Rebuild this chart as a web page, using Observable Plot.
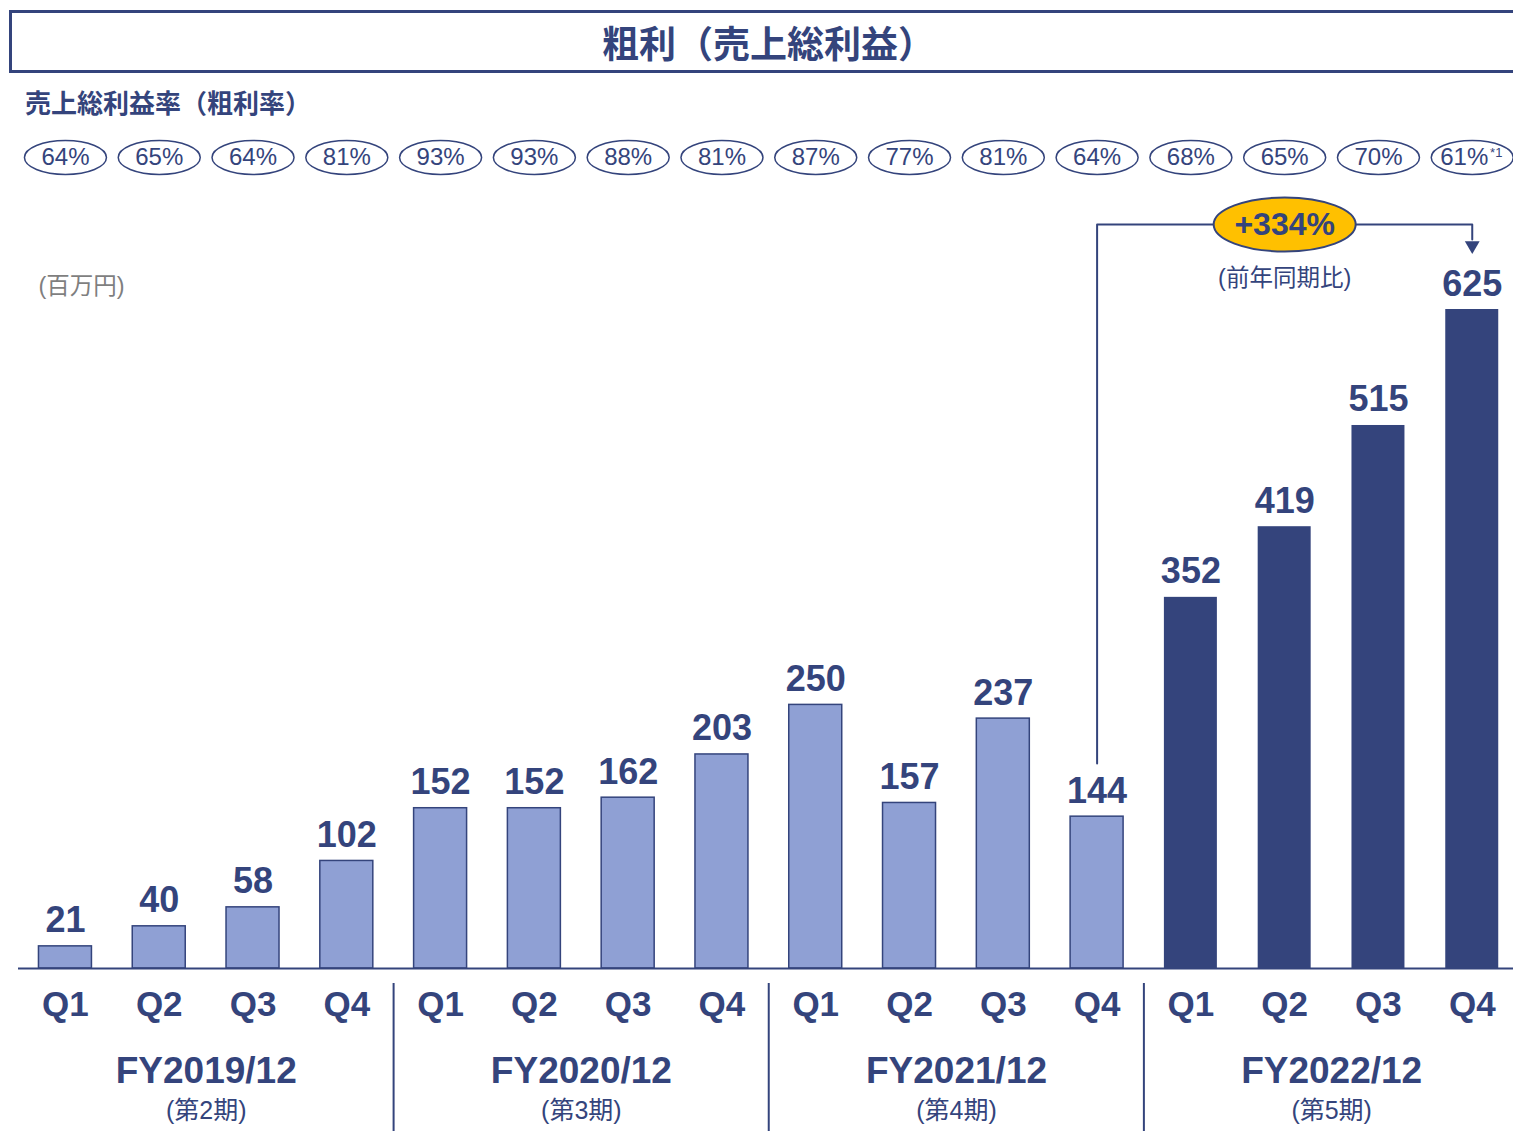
<!DOCTYPE html>
<html>
<head>
<meta charset="utf-8">
<script src="https://cdn.jsdelivr.net/npm/d3@7"></script>
<script src="https://cdn.jsdelivr.net/npm/@observablehq/plot@0.6"></script>
<style>
  html, body { margin: 0; padding: 0; background: #fff; overflow: hidden; }
  body { width: 1513px; height: 1131px; font-family: "Liberation Sans", Arial, "Noto Sans CJK JP", sans-serif; }
  #hdr { position: relative; width: 1513px; height: 130px; }
  #title { position: absolute; left: 9px; top: 10px; width: 1493px; padding-left: 10px; height: 57px;
    border: 3px solid #34447c; border-right: none; display: flex; align-items: center; justify-content: center;
    font-weight: bold; font-size: 37px; color: #34447c; }
  #sub { position: absolute; left: 25px; top: 89px; font-weight: bold; font-size: 26px; color: #34447c; line-height: 30px; }
  #chart svg { display: block; }
</style>
</head>
<body>
<div id="hdr">
  <div id="title">粗利（売上総利益）</div>
  <div id="sub">売上総利益率（粗利率）</div>
</div>
<div id="chart"></div>
<script>
const fiscalYears = ["FY2019/12", "FY2020/12", "FY2021/12", "FY2022/12"];
const periods = ["(第2期)", "(第3期)", "(第4期)", "(第5期)"];
const quarters = ["Q1", "Q2", "Q3", "Q4"];
const grossProfit = [21, 40, 58, 102, 152, 152, 162, 203, 250, 157, 237, 144, 352, 419, 515, 625];
const grossMargin = [64, 65, 64, 81, 93, 93, 88, 81, 87, 77, 81, 64, 68, 65, 70, 61];
const unitLabel = "(百万円)";
const yoyLabel = "(前年同期比)";
const footnoteMark = "*1";

const navy = "#34447c";
const light = "#8fa0d4";
const dark = "#34447c";
const yellow = "#ffc000";

const rows = grossProfit.map((v, i) => ({
  key: fiscalYears[Math.floor(i / 4)] + " " + quarters[i % 4],
  fy: fiscalYears[Math.floor(i / 4)],
  q: quarters[i % 4],
  value: v,
  rate: grossMargin[i],
  current: Math.floor(i / 4) === fiscalYears.length - 1
}));
const keys = rows.map(d => d.key);
const years = fiscalYears.map((fy, j) => ({fy, period: periods[j], mid: rows[j * 4 + 1].key, first: rows[j * 4].key}));

const H = 1001;
const yRange = [838, 179];
const yInv = d3.scaleLinear().domain(yRange).range([0, 625]);

function ellipseSymbol(a, b) {
  const k = 0.5523;
  return {
    draw(ctx) {
      ctx.moveTo(a, 0);
      ctx.bezierCurveTo(a, b * k, a * k, b, 0, b);
      ctx.bezierCurveTo(-a * k, b, -a, b * k, -a, 0);
      ctx.bezierCurveTo(-a, -b * k, -a * k, -b, 0, -b);
      ctx.bezierCurveTo(a * k, -b, a, -b * k, a, 0);
      ctx.closePath();
    }
  };
}

// YoY annotation: last quarter vs same quarter a year earlier
const last = rows[rows.length - 1];
const prev = rows[rows.length - 5];
const yoy = Math.round((last.value / prev.value - 1) * 100);
const annotTop = yInv(94);
const leader = [
  {key: prev.key, v: yInv(633)},
  {key: prev.key, v: annotTop},
  {key: last.key, v: annotTop},
  {key: last.key, v: yInv(109)}
];
const rest = rows.slice(0, rows.length - 1);

const chart = Plot.plot({
  width: 1513,
  height: H,
  margin: 0,
  style: {fontFamily: '"Liberation Sans", Arial, "Noto Sans CJK JP", sans-serif', overflow: "visible", background: "white"},
  x: {type: "band", domain: keys, range: [19.7, 1517], paddingInner: 0.435, paddingOuter: 0.2, round: false, axis: null},
  y: {domain: [0, 625], range: yRange, axis: null},
  marks: [
    // margin ellipses row
    Plot.dot(rows, {x: "key", frameAnchor: "top", dy: 27, symbol: ellipseSymbol(41, 17), fill: "white", stroke: navy, strokeWidth: 1.5}),
    Plot.text(rest, {x: "key", frameAnchor: "top", dy: 27, text: d => d.rate + "%", fontSize: 24, fill: navy, lineAnchor: "middle"}),
    Plot.text([last], {x: "key", frameAnchor: "top", dy: 27, dx: -8, text: d => d.rate + "%", fontSize: 24, fill: navy, lineAnchor: "middle"}),
    Plot.text([last], {x: "key", frameAnchor: "top", dy: 22, dx: 24, text: () => footnoteMark, fontSize: 13, fill: navy, lineAnchor: "middle"}),
    // unit label
    Plot.text([unitLabel], {frameAnchor: "top-left", dx: 38, dy: 156, text: d => d, textAnchor: "start", lineAnchor: "middle", fontSize: 23.5, fill: "#7f7f7f"}),
    // bars
    Plot.barY(rows.filter(d => !d.current), {x: "key", y: "value", fill: light, stroke: navy, strokeWidth: 1.5}),
    Plot.barY(rows.filter(d => d.current), {x: "key", y: "value", fill: dark}),
    Plot.ruleY([0], {stroke: navy, strokeWidth: 2, insetLeft: 18}),
    // value labels
    Plot.text(rows, {x: "key", y: "value", text: d => String(d.value), lineAnchor: "bottom", dy: -14, fontSize: 36, fontWeight: "bold", fill: navy}),
    // quarter labels
    Plot.text(rows, {x: "key", text: "q", frameAnchor: "top", dy: 874, lineAnchor: "middle", fontSize: 35, fontWeight: "bold", fill: navy}),
    // fiscal year labels
    Plot.text(years, {x: "mid", text: "fy", frameAnchor: "top", dy: 941, dx: 47, lineAnchor: "middle", fontSize: 37, fontWeight: "bold", fill: navy}),
    Plot.text(years, {x: "mid", text: "period", frameAnchor: "top", dy: 980, dx: 47, lineAnchor: "middle", fontSize: 25, fill: navy}),
    // separators between fiscal years
    Plot.ruleX(years.slice(1), {x: "first", dx: -47, insetTop: 853, stroke: navy, strokeWidth: 2}),
    // YoY annotation
    Plot.line(leader, {x: "key", y: "v", stroke: navy, strokeWidth: 2}),
    Plot.dot([last], {x: "key", y: () => yInv(115), symbol: "triangle", r: 5.5, rotate: 180, fill: navy}),
    Plot.dot([rows[rows.length - 3]], {x: "key", frameAnchor: "top", dy: 94, symbol: ellipseSymbol(71, 27), fill: yellow, stroke: navy, strokeWidth: 2}),
    Plot.text([rows[rows.length - 3]], {x: "key", frameAnchor: "top", dy: 94, text: () => "+" + yoy + "%", lineAnchor: "middle", fontSize: 32, fontWeight: "bold", fill: navy}),
    Plot.text([rows[rows.length - 3]], {x: "key", frameAnchor: "top", dy: 148, text: () => yoyLabel, lineAnchor: "middle", fontSize: 23.5, fill: navy})
  ]
});
document.getElementById("chart").appendChild(chart);
</script>
</body>
</html>
